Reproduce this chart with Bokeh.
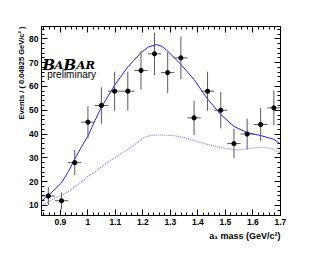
import math
from bokeh.plotting import figure
from bokeh.models import (LinearAxis, SingleIntervalTicker, CustomJSTickFormatter,
                          Label, Range1d, ColumnDataSource, Title)
from bokeh.embed import file_html
from bokeh.resources import INLINE

# ---- data ----
bin_width = 0.04825
mass = [0.856, 0.904, 0.952, 1.000, 1.049, 1.097, 1.145, 1.193, 1.242,
        1.290, 1.338, 1.386, 1.435, 1.483, 1.531, 1.579, 1.628, 1.676]
events = [14, 12, 28, 45, 52, 58, 58, 66.7, 73.7,
          65.8, 72, 46.8, 58, 50, 36, 40, 44, 51]
errors = [3.8, 3.5, 5.3, 6.7, 7.7, 8.2, 8.2, 8.0, 8.9,
          8.7, 9.0, 7.2, 8.2, 7.6, 6.1, 6.5, 6.9, 7.3]

fit_x = [0.8312, 0.8556, 0.88, 0.9039, 0.93, 0.9521, 0.975, 1.0004, 1.025,
         1.0486, 1.0969, 1.1451, 1.1934, 1.22, 1.25, 1.27, 1.2899, 1.3381,
         1.3864, 1.4346, 1.4829, 1.5311, 1.5794, 1.6276, 1.6759, 1.70]
fit_y = [11.8, 14.2, 16.8, 19.5, 24.5, 29.5, 34.3, 39.2, 45.5,
         51.2, 60.5, 68.2, 74.2, 76.6, 77.6, 76.8, 74.8, 69.3,
         62.8, 54.8, 48.2, 43.2, 40.6, 39.4, 37.8, 35.8]

bkg_x = [0.8312, 0.8556, 0.88, 0.925, 0.96, 0.9984, 1.04, 1.082, 1.12, 1.155,
         1.18, 1.203, 1.23, 1.26, 1.31, 1.35, 1.40, 1.45, 1.50, 1.54, 1.58,
         1.62, 1.64, 1.67, 1.70]
bkg_y = [10.0, 11.5, 13.0, 15.5, 18.5, 22.0, 25.5, 28.8, 31.8, 34.2,
         36.5, 38.5, 39.5, 39.6, 39.4, 38.5, 36.8, 35.2, 34.0, 33.3, 33.8,
         34.4, 34.5, 33.8, 32.0]

x_min, x_max = 0.8312, 1.7002
y_min, y_max = 5.8, 85.17

p = figure(width=322, height=247, output_backend="svg", toolbar_location=None,
           x_range=Range1d(x_min, x_max), y_range=Range1d(y_min, y_max),
           x_axis_type=None, y_axis_type=None,
           min_border_left=41, min_border_right=42, min_border_top=26,
           min_border_bottom=32)
p.outline_line_color = "black"
p.outline_line_width = 1
p.grid.visible = False
p.background_fill_color = "white"
p.border_fill_color = "white"

fmt_x = CustomJSTickFormatter(code="return (Math.round(tick*10)/10).toString();")
fmt_none = CustomJSTickFormatter(code="return '';")

def make_axis(kind, labels):
    if kind == "x":
        ax = LinearAxis(ticker=SingleIntervalTicker(interval=0.1, num_minor_ticks=5),
                        formatter=fmt_x if labels else fmt_none)
    else:
        ax = LinearAxis(ticker=SingleIntervalTicker(interval=10, num_minor_ticks=5))
        if not labels:
            ax.formatter = fmt_none
    ax.major_tick_in = 6
    ax.major_tick_out = 0
    ax.minor_tick_in = 3
    ax.minor_tick_out = 0
    ax.axis_line_color = "black"
    ax.major_tick_line_color = "black"
    ax.minor_tick_line_color = "black"
    ax.major_label_standoff = 3 if labels else 0
    ax.major_label_text_font = "Liberation Sans"
    ax.major_label_text_font_style = "bold"
    ax.major_label_text_font_size = "8.5px"
    ax.major_label_text_color = "black"
    return ax

p.add_layout(make_axis("x", True), "below")
p.add_layout(make_axis("x", False), "above")
p.add_layout(make_axis("y", True), "left")
p.add_layout(make_axis("y", False), "right")

p.add_layout(Title(text="Events / ( 0.04825 GeV/c² )", align="right",
                   text_font="Liberation Sans", text_font_style="bold",
                   text_font_size="7.5px", text_color="black", standoff=1), "left")
p.add_layout(Title(text="a₁ mass (GeV/c²)", align="right",
                   text_font="Liberation Sans", text_font_style="bold",
                   text_font_size="9px", text_color="black", standoff=2), "below")

p.line(bkg_x, bkg_y, line_color="#7f7fff", line_width=1.1, line_dash="1 1")
p.line(fit_x, fit_y, line_color="#2020ff", line_width=1.0)

src = ColumnDataSource(dict(
    x=mass, y=events,
    x0=[m - bin_width / 2 for m in mass], x1=[m + bin_width / 2 for m in mass],
    y0=[e - s for e, s in zip(events, errors)], y1=[e + s for e, s in zip(events, errors)],
))
p.segment(x0="x", y0="y0", x1="x", y1="y1", source=src, line_color="#5a5a5a", line_width=1)
p.segment(x0="x0", y0="y", x1="x1", y1="y", source=src, line_color="#5a5a5a", line_width=1)
p.scatter(x="x", y="y", source=src, size=4.2, marker="circle", fill_color="black",
          line_color="black")

logo = [("B", 0.8348, 15), ("A", 0.8785, 11.5), ("B", 0.9112, 15), ("A", 0.9584, 11.5),
        ("R", 0.9911, 11.5)]
for ch, lx, fs in logo:
    p.add_layout(Label(x=lx, y=69.0, text=ch, text_font="DejaVu Serif",
                       text_font_style="bold italic", text_font_size=f"{fs}px",
                       text_align="left", text_baseline="alphabetic", text_color="black"))
p.add_layout(Label(x=0.852, y=65.2, text="preliminary", text_font="Liberation Sans",
                   text_font_size="10px", text_align="left", text_baseline="middle",
                   text_color="black"))

open("out.html", "w").write(file_html(p, INLINE))
